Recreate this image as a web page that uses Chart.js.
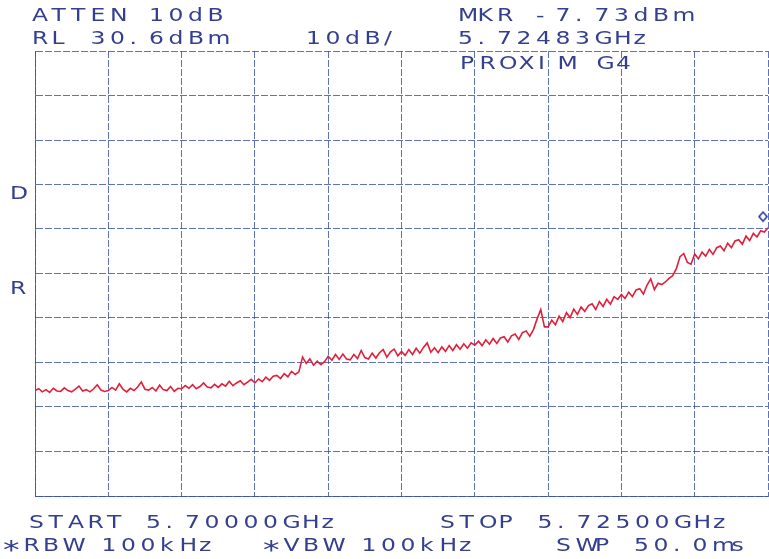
<!DOCTYPE html>
<html>
<head>
<meta charset="utf-8">
<script src="https://cdn.jsdelivr.net/npm/chart.js@4.4.1/dist/chart.umd.min.js"></script>
<style>
  body { margin: 0; background: #fff; }
  canvas { display: block; }
</style>
</head>
<body>
<canvas id="myChart" width="769" height="559"></canvas>
<script>
  // sweep settings (from the header / footer text)
  const startMHz = 5700.0
  const stopMHz = 5725.0
  const refLevel = 30.6
  const dbPerDiv = 10
  const divisions = 10

  // marker
  const markerMHz = 5724.83
  const markerDbm = -7.73

  // trace, 201 points over the sweep, dBm
  const traceDbm = [
    -45.7,-45.3,-46.0,-45.5,-46.1,-45.2,-45.8,-45.9,-45.1,-45.7,-46.0,-45.4,-44.7,-45.8,-45.5,-46.0,-45.3,-44.4,-45.6,-45.9,
    -45.7,-45.0,-45.6,-44.2,-45.4,-46.0,-45.2,-45.7,-44.9,-43.8,-45.4,-45.6,-45.0,-45.8,-44.5,-45.5,-45.7,-44.8,-45.9,-45.2,
    -45.3,-44.6,-45.2,-44.4,-45.3,-44.8,-44.0,-44.9,-45.1,-44.3,-45.0,-44.2,-44.7,-43.6,-44.6,-44.0,-43.5,-44.4,-43.8,-43.2,
    -44.0,-43.1,-43.7,-42.7,-43.4,-42.5,-42.3,-43.0,-41.9,-42.6,-41.4,-42.1,-41.5,
    -38.2,-39.6,-38.6,-40.0,-39.1,-39.9,-39.2,
    -38.0,-38.9,-37.6,-38.7,-37.5,-38.6,-38.8,-37.6,-38.5,-36.7,-38.3,-38.6,-37.3,-38.4,-37.2,-36.5,-38.2,-37.0,-36.4,-37.9,
    -36.9,-37.8,-36.5,-37.6,-36.2,-37.3,-36.0,-35.0,-37.1,-36.1,-37.2,-35.9,-36.9,-35.6,-36.7,-35.4,-36.4,-35.2,-36.2,-35.0,
    -35.5,-34.6,-35.6,-34.3,-35.3,-34.0,-35.1,-33.9,-33.6,-34.8,-33.4,-33.0,-34.2,-32.7,-32.3,-33.5,-32.0,-29.6,-27.5,-31.4,
    -31.4,-29.9,-30.9,-29.0,-30.2,-28.2,-29.3,-27.4,-28.6,-26.9,-27.9,-26.6,-26.2,-27.5,-25.7,-26.8,-25.2,-26.3,-24.6,-25.2,
    -24.1,-25.0,-23.6,-24.6,-23.1,-22.8,-24.0,-22.0,-20.6,-23.0,-21.6,-21.9,-21.3,-20.5,-19.9,-18.3,-15.6,-14.9,-16.9,-17.3,
    -15.0,-16.1,-14.6,-15.5,-14.0,-15.1,-13.6,-13.2,-14.3,-12.6,-13.6,-12.1,-11.8,-12.8,-11.0,-12.0,-10.4,-11.2,-9.8,-10.1,-9.1
  ]

  // annotation text [string, left x, baseline y]
  const labels = [
    ['ATTEN 10dB', 32, 21],
    ['MKR -7.73dBm', 458, 21],
    ['RL 30.6dBm', 32, 44],
    ['10dB/', 306, 44],
    ['5.72483GHz', 458, 44],
    ['PROXIM G4', 460, 69],
    ['D', 10, 199],
    ['R', 10, 294],
    ['START 5.70000GHz', 29, 528],
    ['STOP 5.72500GHz', 440, 528],
    ['*RBW 100kHz', 4, 551],
    ['*VBW 100kHz', 264, 551],
    ['SWP 50.0ms', 556, 551]
  ]

  const ink = '#34408f'
  const gridBlue = 'rgba(55,80,170,0.8)'

  const points = traceDbm.map((v, i) => ({
    x: startMHz + (stopMHz - startMHz) * i / (traceDbm.length - 1),
    y: v
  }))

  // diamond drawn above the point
  const diamond = document.createElement('canvas')
  diamond.width = 14
  diamond.height = 22
  const dctx = diamond.getContext('2d')
  dctx.strokeStyle = '#2a3a9a'
  dctx.lineWidth = 1.6
  dctx.beginPath()
  dctx.moveTo(7, 1.5); dctx.lineTo(11, 6); dctx.lineTo(7, 10.5); dctx.lineTo(3, 6); dctx.closePath()
  dctx.stroke()

  const plotterText = {
    id: 'plotterText',
    afterDraw(chart) {
      const c = chart.ctx
      c.save()
      c.fillStyle = ink
      c.textBaseline = 'alphabetic'
      labels.forEach(([txt, x, y]) => {
        for (let i = 0; i < txt.length; i++) {
          const ch = txt[i]
          if (ch === ' ') continue
          c.save()
          if (ch === '*') {
            // plotter asterisk is letter sized and sits mid-height
            c.font = '24px "DejaVu Sans"'
            c.translate(x + i * 19.5 - 1, y + 7)
          } else {
            c.font = '17px "DejaVu Sans"'
            c.translate(x + i * 19.5, y)
          }
          c.scale(1.38, 1)
          c.fillText(ch, 0, 0)
          c.restore()
        }
      })
      c.restore()
    }
  }

  const yTicks = []
  for (let k = 0; k <= divisions; k++) yTicks.push(refLevel - k * dbPerDiv)

  new Chart(document.getElementById('myChart'), {
    type: 'line',
    data: {
      datasets: [{
        data: points,
        borderColor: '#e0203a',
        borderWidth: 1.6,
        pointRadius: 0,
        tension: 0
      }, {
        data: [{ x: markerMHz, y: markerDbm }],
        showLine: false,
        pointStyle: diamond,
        pointRadius: 7
      }]
    },
    options: {
      responsive: false,
      animation: false,
      layout: { autoPadding: false, padding: { left: 35, right: 1, top: 51, bottom: 63 } },
      plugins: { legend: { display: false }, tooltip: { enabled: false } },
      scales: {
        x: {
          type: 'linear',
          min: startMHz,
          max: stopMHz,
          ticks: { display: false, stepSize: 2.5 },
          grid: { color: gridBlue, lineWidth: 1, drawTicks: false },
          border: { color: gridBlue, dash: [7, 2] }
        },
        y: {
          min: refLevel - divisions * dbPerDiv,
          max: refLevel,
          afterBuildTicks: s => { s.ticks = yTicks.map(v => ({ value: v })) },
          ticks: { display: false },
          grid: { color: gridBlue, lineWidth: 1, drawTicks: false },
          border: { color: gridBlue, dash: [7, 2] }
        }
      }
    },
    plugins: [plotterText]
  })
</script>
</body>
</html>
